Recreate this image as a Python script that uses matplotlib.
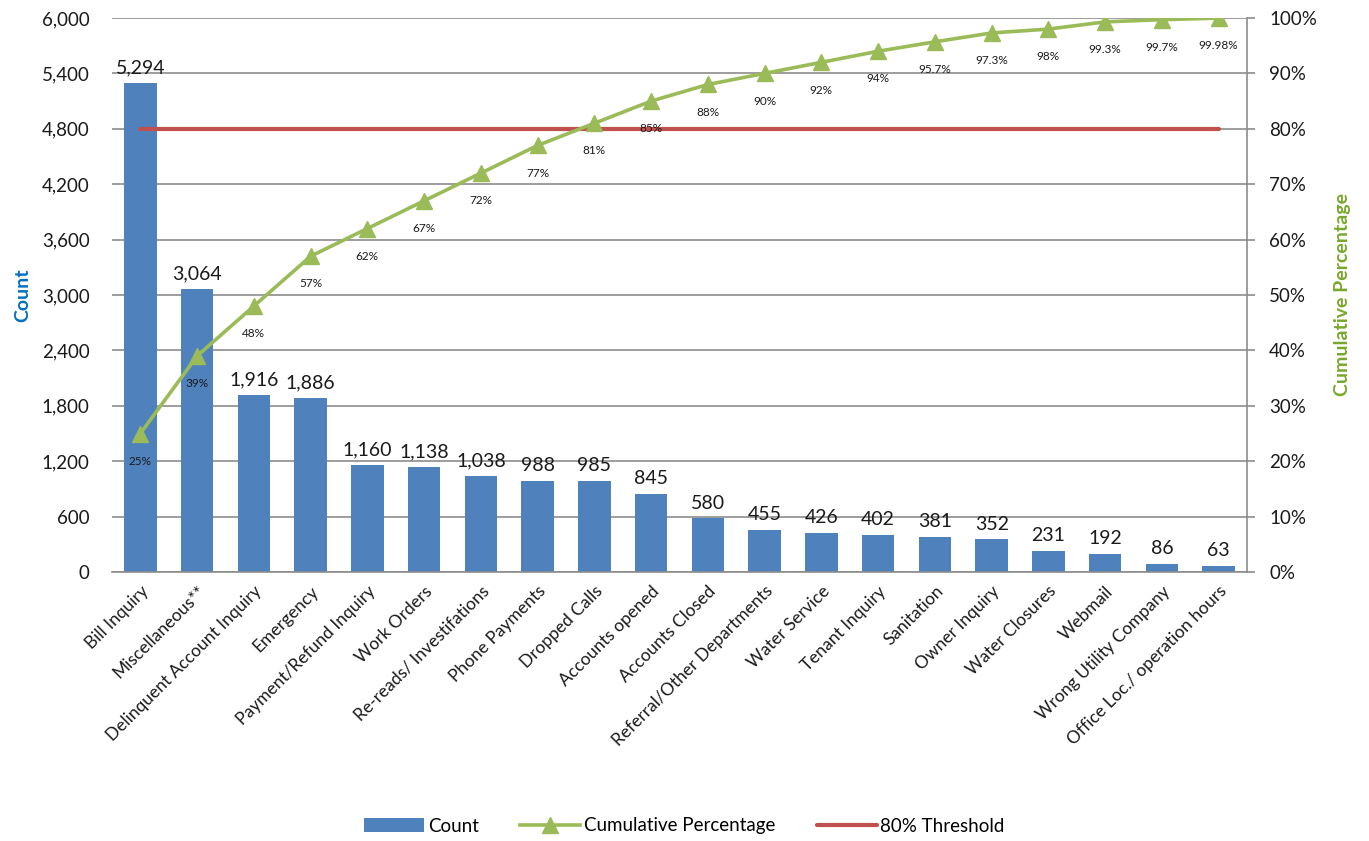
import matplotlib
matplotlib.use("Agg")
import matplotlib.pyplot as plt
from matplotlib.ticker import FuncFormatter, FixedLocator

plt.rcParams['font.family'] = ['Lato', 'DejaVu Sans']

categories = ["Bill Inquiry", "Miscellaneous**", "Delinquent Account Inquiry", "Emergency",
              "Payment/Refund Inquiry", "Work Orders", "Re-reads/ Investifations",
              "Phone Payments", "Dropped Calls", "Accounts opened", "Accounts Closed",
              "Referral/Other Departments", "Water Service", "Tenant Inquiry", "Sanitation",
              "Owner Inquiry", "Water Closures", "Webmail", "Wrong Utility Company",
              "Office Loc./ operation hours"]
counts = [5294, 3064, 1916, 1886, 1160, 1138, 1038, 988, 985, 845, 580, 455, 426, 402,
          381, 352, 231, 192, 86, 63]
cum_pct = [25, 39, 48, 57, 62, 67, 72, 77, 81, 85, 88, 90, 92, 94, 95.7, 97.3, 98, 99.3,
           99.7, 99.98]
cum_labels = ["25%", "39%", "48%", "57%", "62%", "67%", "72%", "77%", "81%", "85%", "88%",
              "90%", "92%", "94%", "95.7%", "97.3%", "98%", "99.3%", "99.7%", "99.98%"]
threshold = 80

bar_color = "#4F81BD"
line_color = "#9BBB59"
red = "#C0504D"
grid_color = "#8C8C8C"

fig = plt.figure(figsize=(13.69, 8.41), dpi=100)
ax = fig.add_axes([112 / 1369, 1 - 572 / 841, (1247 - 112) / 1369, (572 - 18) / 841])
ax2 = ax.twinx()

x = list(range(len(categories)))
bars = ax.bar(x, counts, width=0.57, color=bar_color, zorder=2, label="Count")
for xi, c in zip(x, counts):
    ax.annotate(f"{c:,}", (xi, c), xytext=(0, 5), textcoords="offset points",
                ha="center", va="bottom", fontsize=14, color="#1a1a1a")

ax.set_xlim(-0.5, len(categories) - 0.5)
ax.set_ylim(0, 6000)
ax.yaxis.set_major_locator(FixedLocator(range(0, 6001, 600)))
ax.yaxis.set_major_formatter(FuncFormatter(lambda v, p: f"{int(v):,}"))
ax.grid(axis="y", color=grid_color, linewidth=1.2, zorder=0)
ax.set_axisbelow(True)
ax.tick_params(axis="y", length=0, labelsize=13.5, pad=16, colors="#1a1a1a")
ax.set_xticks(x)
ax.set_xticklabels(categories, rotation=45, ha="right", rotation_mode="anchor",
                   fontsize=12.5, color="#1a1a1a")
ax.tick_params(axis="x", length=0, pad=8)
for s in ["left", "top", "right"]:
    ax.spines[s].set_visible(False)
ax.spines["bottom"].set_color(grid_color)
ax.spines["bottom"].set_linewidth(1.2)
ax.set_ylabel("Count", color="#0070C0", fontsize=14, fontweight="bold", labelpad=8)

ax2.set_ylim(0, 100)
ax2.yaxis.set_major_locator(FixedLocator(range(0, 101, 10)))
ax2.yaxis.set_major_formatter(FuncFormatter(lambda v, p: f"{int(v)}%"))
ax2.tick_params(axis="y", length=6, width=1.2, color=grid_color, labelsize=13.5,
                pad=10, labelcolor="#1a1a1a")
for s in ["left", "top", "bottom"]:
    ax2.spines[s].set_visible(False)
ax2.spines["right"].set_color(grid_color)
ax2.spines["right"].set_linewidth(1.2)
ax2.set_ylabel("Cumulative Percentage", color="#77A82B", fontsize=14, fontweight="bold",
               labelpad=12)

line, = ax2.plot(x, cum_pct, color=line_color, linewidth=2.6, marker="^", markersize=12,
                 markerfacecolor=line_color, markeredgecolor=line_color, zorder=4,
                 label="Cumulative Percentage")
for xi, v, lab in zip(x, cum_pct, cum_labels):
    ax2.annotate(lab, (xi, v), xytext=(0, -16), textcoords="offset points",
                 ha="center", va="top", fontsize=8.5, color="#1a1a1a", zorder=6)

thr, = ax2.plot([x[0], x[-1]], [threshold] * 2, color=red, linewidth=3, zorder=3,
                solid_capstyle="round", label="80% Threshold")

fig.legend([bars, line, thr], ["Count", "Cumulative Percentage", "80% Threshold"],
           loc="center", bbox_to_anchor=(0.5, 1 - 826 / 841), ncol=3, frameon=False,
           fontsize=13.5, handlelength=3.2, handletextpad=0.2, columnspacing=2.2)

fig.savefig("out.png", dpi=100)
